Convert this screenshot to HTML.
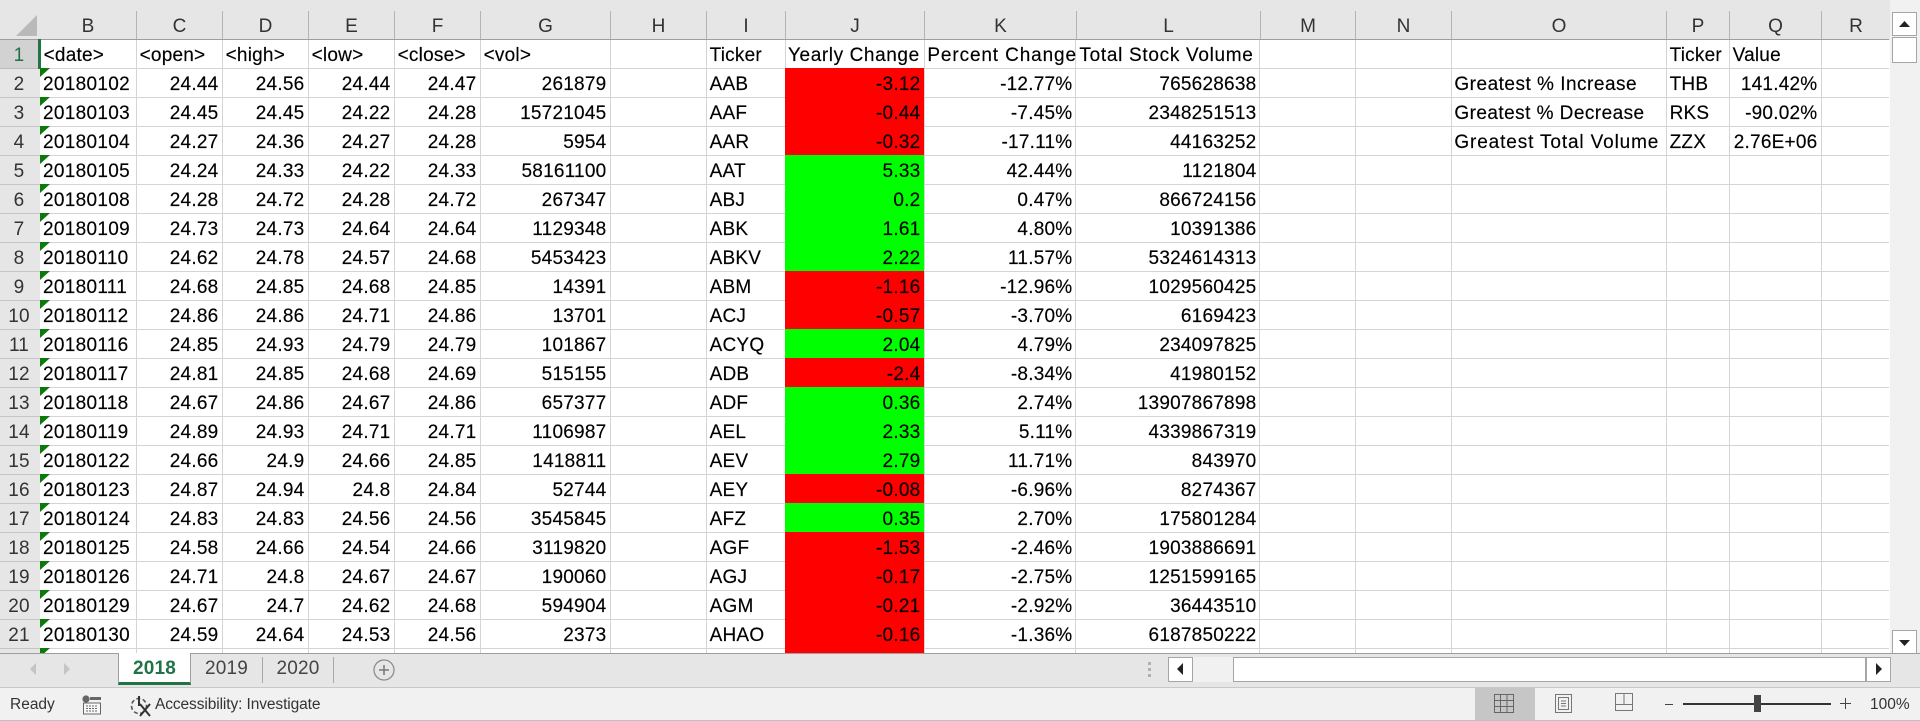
<!DOCTYPE html>
<html lang="en"><head><meta charset="utf-8"><title>Stock data workbook</title>
<style>
html,body{margin:0;padding:0;background:#fff}
#app{position:relative;width:1920px;height:721px;overflow:hidden;font-family:"Liberation Sans",sans-serif;font-size:19px;color:#000;background:#fff}
.abs{position:absolute}
#colhead{left:0;top:0;width:1920px;height:40px;background:#e6e6e6;border-bottom:0}
#colhead:after{content:"";position:absolute;left:0;top:39px;width:1889px;height:1px;background:#9e9e9e}
.ch{position:absolute;top:11px;height:28px;line-height:32px;text-align:center;color:#333;border-right:1px solid #b4b4b4;box-sizing:border-box}
#rowhead{left:0;top:40px;width:40px;height:613px;background:#e6e6e6;overflow:hidden;border-right:0}
.rh{height:29px;line-height:31px;box-sizing:border-box;border-bottom:1px solid #c4c4c4;text-align:center;color:#333;padding-right:2px;letter-spacing:.2px}
.rh.sel{background:#d2d2d2;color:#217346;border-bottom-color:#bdbdbd}
#grid{left:40px;top:40px;width:1850px;height:613px;overflow:hidden;background:#fff}
.vl{position:absolute;top:0;width:1px;height:613px;background:#d4d4d4}
.row{position:absolute;left:0;width:1849px;height:29px;box-sizing:border-box;border-bottom:1px solid #d4d4d4}
.c{position:absolute;top:0;height:28px;line-height:31px;white-space:nowrap;box-sizing:border-box;letter-spacing:.22px;text-align:right;padding:0 3.6px 0 3.6px;-webkit-text-stroke:.15px #000}
.l{text-align:left}
.B{left:0;width:96px;letter-spacing:.3px;padding-left:3px}.C{left:96px;width:86px}.D{left:182px;width:86px}.E{left:268px;width:86px}.F{left:354px;width:86px}.G{left:440px;width:130px}
.I{left:666px;width:79px}.J{left:745px;width:139px}.K{left:884px;width:152px}.L{left:1036px;width:184px}
.O{left:1411px;width:215px}.P{left:1626px;width:63px}.Q{left:1689px;width:92px}
.J.neg,.J.pos{top:-1px;height:29px;line-height:33px}
.neg{background:#ff0000}.pos{background:#00ff00}
.w{letter-spacing:.7px;padding-left:3.4px}
.tri{position:absolute;left:0;top:-1px;width:0;height:0;border-top:9px solid #0a7a0a;border-right:10px solid transparent}
#sel{left:38px;top:39px;width:3px;height:30px;background:#217346}
#corner{left:16px;top:15px;width:0;height:0;border-bottom:21px solid #b9b9b9;border-left:21px solid transparent}
#vscroll{left:1890px;top:0;width:30px;height:653px;background:#f1f1f1}
.btn{position:absolute;background:#fff;border:1px solid #a6a6a6;box-sizing:border-box}
#tabbar{left:0;top:653px;width:1920px;height:34px;background:#e6e6e6;border-top:1px solid #9e9e9e;box-sizing:border-box}
.tab{position:absolute;top:0;height:33px;line-height:33px;text-align:center;color:#444;letter-spacing:.2px}
#status{left:0;top:687px;width:1920px;height:34px;background:#f1f1f1;border-top:1px solid #c8c8c8;border-bottom:1px solid #b4c4c8;box-sizing:border-box;font-size:15.5px;color:#333}
.st{position:absolute;top:0;height:32px;line-height:34px;white-space:nowrap}
</style></head><body>
<div id="app">

<div id="colhead" class="abs">
<div class="ch" style="left:40px;width:97px">B</div>
<div class="ch" style="left:137px;width:86px">C</div>
<div class="ch" style="left:223px;width:86px">D</div>
<div class="ch" style="left:309px;width:86px">E</div>
<div class="ch" style="left:395px;width:86px">F</div>
<div class="ch" style="left:481px;width:130px">G</div>
<div class="ch" style="left:611px;width:96px">H</div>
<div class="ch" style="left:707px;width:79px">I</div>
<div class="ch" style="left:786px;width:139px">J</div>
<div class="ch" style="left:925px;width:152px">K</div>
<div class="ch" style="left:1077px;width:184px">L</div>
<div class="ch" style="left:1261px;width:95px">M</div>
<div class="ch" style="left:1356px;width:96px">N</div>
<div class="ch" style="left:1452px;width:215px">O</div>
<div class="ch" style="left:1667px;width:63px">P</div>
<div class="ch" style="left:1730px;width:92px">Q</div>
<div class="ch" style="left:1822px;width:68px;border-right:0">R</div>
</div>
<div id="corner" class="abs"></div>

<div id="rowhead" class="abs">
<div class="rh sel">1</div>
<div class="rh">2</div>
<div class="rh">3</div>
<div class="rh">4</div>
<div class="rh">5</div>
<div class="rh">6</div>
<div class="rh">7</div>
<div class="rh">8</div>
<div class="rh">9</div>
<div class="rh">10</div>
<div class="rh">11</div>
<div class="rh">12</div>
<div class="rh">13</div>
<div class="rh">14</div>
<div class="rh">15</div>
<div class="rh">16</div>
<div class="rh">17</div>
<div class="rh">18</div>
<div class="rh">19</div>
<div class="rh">20</div>
<div class="rh">21</div>
<div class="rh"></div>
</div>

<div id="grid" class="abs">
<i class="vl" style="left:96px"></i><i class="vl" style="left:182px"></i><i class="vl" style="left:268px"></i><i class="vl" style="left:354px"></i><i class="vl" style="left:440px"></i><i class="vl" style="left:570px"></i><i class="vl" style="left:666px"></i><i class="vl" style="left:745px"></i><i class="vl" style="left:884px"></i><i class="vl" style="left:1035px"></i><i class="vl" style="left:1219px"></i><i class="vl" style="left:1315px"></i><i class="vl" style="left:1411px"></i><i class="vl" style="left:1626px"></i><i class="vl" style="left:1689px"></i><i class="vl" style="left:1781px"></i>

<div class="row" style="top:0">
<div class="c l B" style="letter-spacing:.22px;padding-left:3.6px">&lt;date&gt;</div><div class="c l C">&lt;open&gt;</div><div class="c l D">&lt;high&gt;</div><div class="c l E">&lt;low&gt;</div><div class="c l F">&lt;close&gt;</div><div class="c l G">&lt;vol&gt;</div>
<div class="c l I">Ticker</div><div class="c l J w" style="padding-left:3px;letter-spacing:.6px">Yearly Change</div><div class="c l K w" style="letter-spacing:.87px">Percent Change</div><div class="c l L w">Total Stock Volume</div>
<div class="c l P">Ticker</div><div class="c l Q">Value</div></div>

<div class="row" style="top:29px"><i class="tri"></i><div class="c l B">20180102</div><div class="c C">24.44</div><div class="c D">24.56</div><div class="c E">24.44</div><div class="c F">24.47</div><div class="c G">261879</div><div class="c l I">AAB</div><div class="c J neg">-3.12</div><div class="c K">-12.77%</div><div class="c L">765628638</div><div class="c l O w" style="letter-spacing:.5px">Greatest % Increase</div><div class="c l P">THB</div><div class="c Q">141.42%</div></div>

<div class="row" style="top:58px"><i class="tri"></i><div class="c l B">20180103</div><div class="c C">24.45</div><div class="c D">24.45</div><div class="c E">24.22</div><div class="c F">24.28</div><div class="c G">15721045</div><div class="c l I">AAF</div><div class="c J neg">-0.44</div><div class="c K">-7.45%</div><div class="c L">2348251513</div><div class="c l O w" style="letter-spacing:.45px">Greatest % Decrease</div><div class="c l P">RKS</div><div class="c Q">-90.02%</div></div>

<div class="row" style="top:87px"><i class="tri"></i><div class="c l B">20180104</div><div class="c C">24.27</div><div class="c D">24.36</div><div class="c E">24.27</div><div class="c F">24.28</div><div class="c G">5954</div><div class="c l I">AAR</div><div class="c J neg">-0.32</div><div class="c K">-17.11%</div><div class="c L">44163252</div><div class="c l O w" style="letter-spacing:.87px">Greatest Total Volume</div><div class="c l P">ZZX</div><div class="c Q">2.76E+06</div></div>

<div class="row" style="top:116px"><i class="tri"></i><div class="c l B">20180105</div><div class="c C">24.24</div><div class="c D">24.33</div><div class="c E">24.22</div><div class="c F">24.33</div><div class="c G">58161100</div><div class="c l I">AAT</div><div class="c J pos">5.33</div><div class="c K">42.44%</div><div class="c L">1121804</div></div>

<div class="row" style="top:145px"><i class="tri"></i><div class="c l B">20180108</div><div class="c C">24.28</div><div class="c D">24.72</div><div class="c E">24.28</div><div class="c F">24.72</div><div class="c G">267347</div><div class="c l I">ABJ</div><div class="c J pos">0.2</div><div class="c K">0.47%</div><div class="c L">866724156</div></div>

<div class="row" style="top:174px"><i class="tri"></i><div class="c l B">20180109</div><div class="c C">24.73</div><div class="c D">24.73</div><div class="c E">24.64</div><div class="c F">24.64</div><div class="c G">1129348</div><div class="c l I">ABK</div><div class="c J pos">1.61</div><div class="c K">4.80%</div><div class="c L">10391386</div></div>

<div class="row" style="top:203px"><i class="tri"></i><div class="c l B">20180110</div><div class="c C">24.62</div><div class="c D">24.78</div><div class="c E">24.57</div><div class="c F">24.68</div><div class="c G">5453423</div><div class="c l I">ABKV</div><div class="c J pos">2.22</div><div class="c K">11.57%</div><div class="c L">5324614313</div></div>

<div class="row" style="top:232px"><i class="tri"></i><div class="c l B">20180111</div><div class="c C">24.68</div><div class="c D">24.85</div><div class="c E">24.68</div><div class="c F">24.85</div><div class="c G">14391</div><div class="c l I">ABM</div><div class="c J neg">-1.16</div><div class="c K">-12.96%</div><div class="c L">1029560425</div></div>

<div class="row" style="top:261px"><i class="tri"></i><div class="c l B">20180112</div><div class="c C">24.86</div><div class="c D">24.86</div><div class="c E">24.71</div><div class="c F">24.86</div><div class="c G">13701</div><div class="c l I">ACJ</div><div class="c J neg">-0.57</div><div class="c K">-3.70%</div><div class="c L">6169423</div></div>

<div class="row" style="top:290px"><i class="tri"></i><div class="c l B">20180116</div><div class="c C">24.85</div><div class="c D">24.93</div><div class="c E">24.79</div><div class="c F">24.79</div><div class="c G">101867</div><div class="c l I">ACYQ</div><div class="c J pos">2.04</div><div class="c K">4.79%</div><div class="c L">234097825</div></div>

<div class="row" style="top:319px"><i class="tri"></i><div class="c l B">20180117</div><div class="c C">24.81</div><div class="c D">24.85</div><div class="c E">24.68</div><div class="c F">24.69</div><div class="c G">515155</div><div class="c l I">ADB</div><div class="c J neg">-2.4</div><div class="c K">-8.34%</div><div class="c L">41980152</div></div>

<div class="row" style="top:348px"><i class="tri"></i><div class="c l B">20180118</div><div class="c C">24.67</div><div class="c D">24.86</div><div class="c E">24.67</div><div class="c F">24.86</div><div class="c G">657377</div><div class="c l I">ADF</div><div class="c J pos">0.36</div><div class="c K">2.74%</div><div class="c L">13907867898</div></div>

<div class="row" style="top:377px"><i class="tri"></i><div class="c l B">20180119</div><div class="c C">24.89</div><div class="c D">24.93</div><div class="c E">24.71</div><div class="c F">24.71</div><div class="c G">1106987</div><div class="c l I">AEL</div><div class="c J pos">2.33</div><div class="c K">5.11%</div><div class="c L">4339867319</div></div>

<div class="row" style="top:406px"><i class="tri"></i><div class="c l B">20180122</div><div class="c C">24.66</div><div class="c D">24.9</div><div class="c E">24.66</div><div class="c F">24.85</div><div class="c G">1418811</div><div class="c l I">AEV</div><div class="c J pos">2.79</div><div class="c K">11.71%</div><div class="c L">843970</div></div>

<div class="row" style="top:435px"><i class="tri"></i><div class="c l B">20180123</div><div class="c C">24.87</div><div class="c D">24.94</div><div class="c E">24.8</div><div class="c F">24.84</div><div class="c G">52744</div><div class="c l I">AEY</div><div class="c J neg">-0.08</div><div class="c K">-6.96%</div><div class="c L">8274367</div></div>

<div class="row" style="top:464px"><i class="tri"></i><div class="c l B">20180124</div><div class="c C">24.83</div><div class="c D">24.83</div><div class="c E">24.56</div><div class="c F">24.56</div><div class="c G">3545845</div><div class="c l I">AFZ</div><div class="c J pos">0.35</div><div class="c K">2.70%</div><div class="c L">175801284</div></div>

<div class="row" style="top:493px"><i class="tri"></i><div class="c l B">20180125</div><div class="c C">24.58</div><div class="c D">24.66</div><div class="c E">24.54</div><div class="c F">24.66</div><div class="c G">3119820</div><div class="c l I">AGF</div><div class="c J neg">-1.53</div><div class="c K">-2.46%</div><div class="c L">1903886691</div></div>

<div class="row" style="top:522px"><i class="tri"></i><div class="c l B">20180126</div><div class="c C">24.71</div><div class="c D">24.8</div><div class="c E">24.67</div><div class="c F">24.67</div><div class="c G">190060</div><div class="c l I">AGJ</div><div class="c J neg">-0.17</div><div class="c K">-2.75%</div><div class="c L">1251599165</div></div>

<div class="row" style="top:551px"><i class="tri"></i><div class="c l B">20180129</div><div class="c C">24.67</div><div class="c D">24.7</div><div class="c E">24.62</div><div class="c F">24.68</div><div class="c G">594904</div><div class="c l I">AGM</div><div class="c J neg">-0.21</div><div class="c K">-2.92%</div><div class="c L">36443510</div></div>

<div class="row" style="top:580px"><i class="tri"></i><div class="c l B">20180130</div><div class="c C">24.59</div><div class="c D">24.64</div><div class="c E">24.53</div><div class="c F">24.56</div><div class="c G">2373</div><div class="c l I">AHAO</div><div class="c J neg">-0.16</div><div class="c K">-1.36%</div><div class="c L">6187850222</div></div>

<div class="row" style="top:609px"><i class="tri"></i><div class="c J neg"></div></div>
</div>
<div id="sel" class="abs"></div>

<div id="vscroll" class="abs">
<div class="btn" style="left:2px;top:12px;width:25px;height:24px"><svg width="23" height="22"><polygon points="6,14 17,14 11.5,8" fill="#222"/></svg></div>
<div class="btn" style="left:2px;top:37px;width:25px;height:26px"></div>
<div class="btn" style="left:2px;top:630px;width:25px;height:24px"><svg width="23" height="22"><polygon points="6,9 17,9 11.5,15" fill="#222"/></svg></div>
</div>

<div id="tabbar" class="abs">
<svg class="abs" style="left:25px;top:6px" width="50" height="20"><polygon points="11,3 11,15 5,9" fill="#c4c4c4"/><polygon points="39,3 39,15 45,9" fill="#c4c4c4"/></svg>
<div class="tab" style="left:118px;width:73px;background:#fff;line-height:31px;color:#217346;font-weight:bold;border-left:1px solid #9e9e9e;border-right:1px solid #9e9e9e;box-sizing:border-box;border-bottom:3px solid #217346;top:-1px;height:32px">2018</div>
<div class="tab" style="left:191px;width:71px;line-height:30px">2019</div>
<div class="abs" style="left:262px;top:3px;width:1px;height:26px;background:#a8a8a8"></div>
<div class="tab" style="left:263px;width:70px;line-height:30px">2020</div>
<div class="abs" style="left:333px;top:3px;width:1px;height:26px;background:#a8a8a8"></div>
<svg class="abs" style="left:372px;top:4px" width="24" height="24"><circle cx="12" cy="12" r="10" fill="none" stroke="#8c8c8c" stroke-width="1.3"/><path d="M12 7v10M7 12h10" stroke="#777" stroke-width="1.5"/></svg>
<svg class="abs" style="left:1148px;top:8px" width="4" height="18"><rect width="3" height="3" y="0" fill="#b0b0b0"/><rect width="3" height="3" y="6" fill="#b0b0b0"/><rect width="3" height="3" y="12" fill="#b0b0b0"/></svg>
<div class="btn" style="left:1168px;top:3px;width:25px;height:25px"><svg width="23" height="22"><polygon points="14,5 14,17 8,11" fill="#222"/></svg></div>
<div class="abs" style="left:1193px;top:3px;width:40px;height:25px;background:#f1f1f1"></div>
<div class="btn" style="left:1233px;top:3px;width:633px;height:25px"></div>
<div class="btn" style="left:1866px;top:3px;width:25px;height:25px"><svg width="23" height="22"><polygon points="9,5 9,17 15,11" fill="#222"/></svg></div>
</div>

<div id="status" class="abs">
<div class="st" style="left:10px">Ready</div>
<svg class="abs" style="left:81px;top:6px" width="22" height="22"><circle cx="5" cy="5" r="3.6" fill="#666"/><rect x="9" y="3" width="11" height="3" fill="#666"/><rect x="2.500" y="9" width="17" height="11" fill="#f8f8f8" stroke="#666"/><path d="M5 12h12M5 14.500h12M5 17h12" stroke="#666" stroke-dasharray="2 1"/></svg>
<svg class="abs" style="left:129px;top:7px" width="24" height="24"><circle cx="10" cy="11" r="7.500" fill="none" stroke="#555" stroke-width="1.6" stroke-dasharray="4 2.500"/><path d="M10 1v10M11 9l10 12M21 9L11 21" stroke="#333" stroke-width="2"/></svg>
<div class="st" style="left:155px;letter-spacing:-.1px">Accessibility: Investigate</div>
<div class="abs" style="left:1475px;top:0;width:60px;height:32px;background:#c6c6c6"><svg style="position:absolute;left:19px;top:6px" width="21" height="20"><path d="M.5.5h19v18H.5zM.5 6.500h19M.5 12.500h19M6.500.5v18M13 .5v18" fill="none" stroke="#666"/></svg></div>
<svg class="abs" style="left:1554px;top:6px" width="20" height="20"><path d="M1.500.5h16v18h-16z" fill="none" stroke="#777"/><path d="M4.500 3.500h10v12h-10zM7 7h5M7 9.500h5M7 12h5" fill="none" stroke="#777"/></svg>
<svg class="abs" style="left:1615px;top:5px" width="20" height="20"><path d="M.5.5h17v17H.5zM.5 11.500h17M9 .5v11" fill="none" stroke="#777"/></svg>
<div class="abs" style="left:1665px;top:16px;width:8px;height:1px;background:#444"></div>
<div class="abs" style="left:1683px;top:15px;width:148px;height:2px;background:#333"></div>
<div class="abs" style="left:1754px;top:7px;width:7px;height:17px;background:#444"></div>
<svg class="abs" style="left:1840px;top:10px" width="12" height="12"><path d="M5.500 0v11M0 5.500h11" stroke="#444"/></svg>
<div class="st" style="left:1870px">100%</div>
</div>
</div>
</body></html>
